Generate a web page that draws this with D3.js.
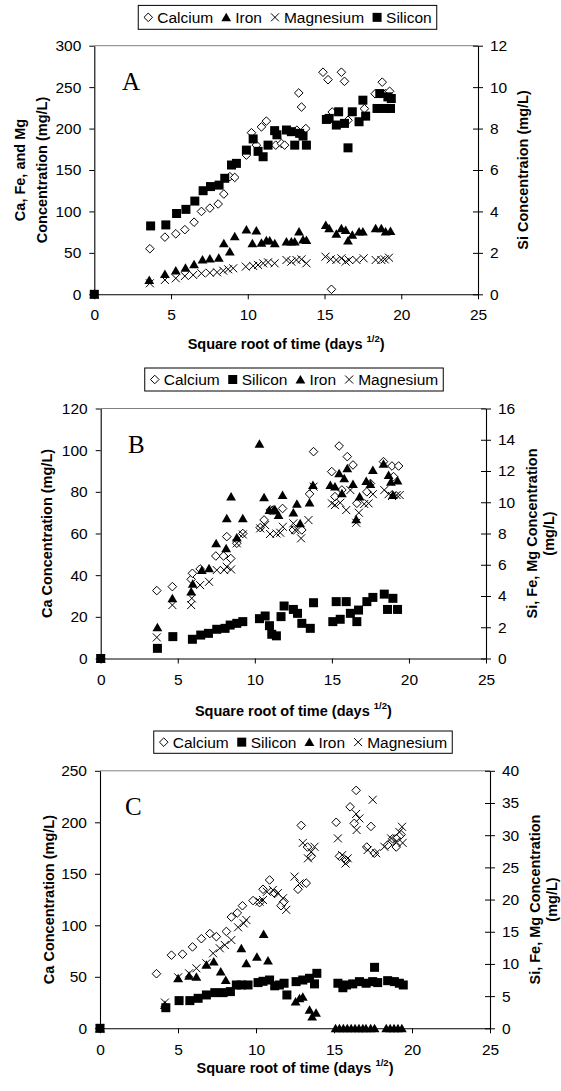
<!DOCTYPE html>
<html>
<head>
<meta charset="utf-8">
<script src="https://cdn.jsdelivr.net/npm/d3@7"></script>
<style>
  body { margin: 0; background: #fff; }
  svg { display: block; font-family: "Liberation Sans", Arial, sans-serif; }
</style>
</head>
<body>
<svg id="chart" width="561" height="1091"></svg>
<script>
// ---------- data: [sqrt(days), concentration] ----------
const xTicks = [0, 5, 10, 15, 20, 25];

// Panel A (Ca, Fe, Mg on left axis; Si on right axis)
const aLeftTicks = [0, 50, 100, 150, 200, 250, 300];
const aRightTicks = [0, 2, 4, 6, 8, 10, 12];
const aCalcium = [[0,0],[3.62,55],[4.6,69],[5.31,73],[5.9,78],[6.5,87],[6.98,100],[7.53,104],[8.07,109],[8.44,121],[8.83,142],[9.15,141],[9.91,168],[10.24,195],[10.56,180],[10.89,202],[11.21,209],[11.82,180],[12.19,182],[12.4,180],[13.2,198],[13.32,243],[13.5,226],[13.78,200],[14.9,268],[15.23,259],[15.45,6],[15.5,220],[16.1,268],[16.3,257],[16.53,210],[17.6,224],[18.3,242],[18.76,256],[18.98,242],[19.24,245]];
const aIron = [[0,0],[3.58,17],[4.6,24.5],[5.31,28.5],[5.94,32],[6.5,36],[7.05,42],[7.53,43],[8.11,44],[8.44,61.5],[8.83,51.5],[9.15,70],[9.91,78],[10.3,61.5],[10.56,77],[10.89,62],[11.21,65],[11.43,64.7],[11.76,61.5],[12.52,63.5],[12.84,63.5],[13.06,63.5],[13.34,75.6],[13.6,66],[13.82,65.5],[15.08,83.6],[15.3,79.6],[15.77,72.8],[16.1,79.6],[16.38,77.6],[16.53,64.7],[16.81,71.6],[17.25,75.6],[17.5,75.6],[18.33,79.6],[18.7,79.6],[18.98,75.6],[19.3,76.4]];
const aMagnesium = [[0,0],[3.62,13.3],[4.6,17.3],[5.31,19.3],[5.9,22],[6.44,23.3],[6.98,25.3],[7.53,26],[8.0,26.5],[8.4,28.5],[8.72,30.2],[9.05,31.4],[9.87,33.4],[10.35,34.2],[10.67,35.4],[11.0,37.4],[11.32,38.6],[11.75,37.4],[12.52,41.4],[12.84,39.4],[13.17,41.4],[13.5,42.2],[13.82,37.4],[15.06,45.4],[15.4,42.2],[15.77,41.4],[16.1,43.4],[16.38,39.4],[16.6,41.4],[17.08,41.4],[17.55,43.4],[18.33,41.4],[18.7,41.4],[18.92,42.2],[19.2,44.2]];
const aSilicon = [[0,0],[3.67,3.3],[4.66,3.35],[5.36,3.9],[5.97,4.1],[6.55,4.5],[7.09,5.0],[7.57,5.2],[8.13,5.27],[8.5,5.6],[8.94,6.24],[9.26,6.32],[9.91,6.96],[10.35,7.5],[10.67,6.9],[11.0,6.64],[11.32,7.2],[11.75,7.9],[11.9,7.7],[12.52,7.93],[12.84,7.85],[13.06,7.2],[13.38,7.77],[13.6,7.64],[13.82,7.2],[15.12,8.44],[15.3,8.49],[15.77,8.17],[15.92,8.81],[16.3,8.25],[16.53,7.07],[16.81,8.81],[17.25,8.33],[17.5,9.37],[17.68,8.6],[18.42,8.97],[18.6,9.69],[18.92,8.97],[19.13,9.53],[19.3,8.97],[19.35,9.45]];

// Panel B (Ca on left axis; Si, Fe, Mg on right axis)
const bLeftTicks = [0, 20, 40, 60, 80, 100, 120];
const bRightTicks = [0, 2, 4, 6, 8, 10, 12, 14, 16];
const bCalcium = [[0,0],[3.64,32.6],[4.65,34.5],[5.87,38],[5.95,40.9],[6.45,43],[7.47,49.2],[7.97,49.2],[8.18,58.5],[8.44,48],[8.83,55.3],[9.22,60],[10.35,62.8],[10.6,66.5],[11.0,71.3],[11.2,71.3],[11.8,72],[12.5,61.7],[13.05,61.7],[13.55,79],[13.81,99.3],[14.99,89.7],[15.2,77.7],[15.47,102],[15.65,80.9],[16.0,96.9],[16.37,92.9],[16.62,74.5],[17.27,80],[17.5,84],[18.35,94.5],[18.9,92.4],[19.0,87.3],[19.33,92.4]];
const bSilicon = [[0,0],[3.68,0.65],[4.68,1.4],[5.95,1.23],[6.49,1.5],[6.99,1.61],[7.53,1.87],[8.07,1.93],[8.4,2.14],[8.83,2.25],[9.22,2.36],[10.3,2.55],[10.67,2.72],[10.95,2.1],[11.1,1.55],[11.4,1.45],[11.7,2.68],[11.9,3.36],[12.5,3.14],[12.77,2.89],[13.05,2.25],[13.6,1.93],[13.81,3.57],[15.06,2.36],[15.28,3.64],[15.54,2.51],[15.93,3.64],[16.2,2.89],[16.62,2.36],[16.73,3.1],[17.27,3.64],[17.66,3.91],[18.4,4.12],[18.61,3.14],[18.96,3.85],[19.26,3.14]];
const bIron = [[0,0],[3.68,2.0],[4.65,3.85],[5.87,4.28],[5.97,4.77],[6.56,5.66],[7.03,5.77],[7.49,7.37],[8.14,7.05],[8.18,8.97],[8.46,10.36],[8.83,7.73],[9.22,8.97],[10.3,13.73],[10.6,10.31],[10.95,9.5],[11.2,9.46],[11.3,9.55],[11.54,9.18],[11.8,10.46],[12.5,9.33],[12.73,9.89],[12.94,8.65],[13.55,9.97],[13.77,11.1],[14.9,11.1],[15.2,11.0],[15.47,11.85],[15.65,10.57],[15.8,11.53],[16.0,12.17],[16.37,11.16],[16.58,8.9],[16.8,10.36],[17.23,11.36],[17.5,11.16],[17.66,12.06],[18.35,12.45],[18.68,11.74],[18.83,11.3],[18.96,10.46],[19.26,11.38]];
const bMagnesium = [[0,0],[3.64,1.35],[4.65,3.42],[5.87,3.42],[5.91,3.85],[6.45,4.7],[7.03,4.91],[7.53,5.66],[8.01,5.66],[8.18,5.87],[8.46,5.7],[8.83,7.37],[9.22,7.94],[10.35,8.33],[10.67,8.54],[10.99,7.97],[11.4,8.0],[11.65,8.05],[11.82,8.43],[12.5,8.65],[12.62,8.22],[13.0,7.69],[13.48,8.86],[13.81,11.0],[15.0,9.93],[15.2,9.82],[15.54,9.97],[15.93,9.5],[16.2,10.78],[16.58,8.69],[16.75,9.33],[17.1,9.89],[17.38,9.93],[17.66,10.52],[18.4,10.78],[18.68,10.52],[18.9,10.4],[19.2,10.46],[19.4,10.46]];

// Panel C (Ca on left axis; Si, Fe, Mg on right axis)
const cLeftTicks = [0, 50, 100, 150, 200, 250];
const cRightTicks = [0, 5, 10, 15, 20, 25, 30, 35, 40];
const cCalcium = [[0,0],[3.62,53],[4.58,71],[5.29,72],[5.93,79],[6.5,87],[7.04,92],[7.46,89],[8.1,94],[8.42,108],[8.8,112],[9.13,119],[9.81,124],[10.23,122],[10.45,135],[10.87,144],[11.2,131],[11.6,119],[11.8,123],[12.69,135],[12.9,197],[13.22,141],[13.3,176],[13.54,167],[15.14,200],[15.35,167],[15.77,163],[16.03,215],[16.3,199],[16.42,231],[17.1,176],[17.37,196],[17.59,170],[18.44,178],[18.76,184],[18.99,176],[19.08,185],[19.3,188]];
const cSilicon = [[0,0],[4.22,3.2],[5.07,4.3],[5.76,4.3],[6.29,4.66],[6.82,5.18],[7.36,5.54],[7.89,5.54],[8.36,5.7],[8.74,6.73],[9.06,6.73],[9.49,6.73],[10.13,7.1],[10.45,7.3],[10.87,7.5],[11.2,6.6],[11.5,6.73],[11.8,7.0],[11.98,5.18],[12.57,7.25],[13.0,7.5],[13.43,7.77],[13.75,6.9],[13.9,8.54],[15.25,7.0],[15.57,6.3],[15.8,6.73],[16.2,6.9],[16.63,7.25],[17.06,7.0],[17.48,7.25],[17.6,9.47],[17.8,7.1],[18.44,7.4],[18.87,7.25],[19.19,7.0],[19.44,6.73]];
const cIron = [[0,0],[4.16,3.6],[5.01,7.77],[5.71,8.13],[6.18,8.0],[6.82,9.84],[7.29,10.35],[7.74,8.8],[8.06,7.5],[9.06,12.4],[9.38,10.1],[10.06,11.1],[10.49,14.65],[10.77,10.5],[12.54,4.14],[12.79,4.66],[13.0,4.9],[13.43,2.85],[13.6,1.8],[13.85,2.4],[15.1,0],[15.35,0],[15.6,0],[15.85,0],[16.1,0],[16.35,0],[16.6,0],[16.85,0],[17.05,0],[17.35,0],[17.6,0],[18.35,0],[18.6,0],[18.85,0],[19.1,0],[19.35,0]];
const cMagnesium = [[0,0],[4.16,4.0],[5.01,7.92],[5.71,8.54],[6.18,9.32],[6.82,10.1],[7.25,11.65],[7.68,12.43],[8.0,12.94],[8.42,13.72],[8.85,15.69],[9.21,16.3],[9.38,16.83],[10.23,19.67],[10.45,19.93],[10.7,21.2],[11.08,21.5],[11.4,21],[11.73,20.2],[11.94,18.4],[12.47,23.56],[12.79,22.5],[13.0,28.8],[13.33,26.4],[13.54,27.4],[13.75,28.2],[15.25,29.5],[15.52,26.9],[15.74,25.6],[15.88,26.4],[16.42,33.3],[16.45,30.8],[16.63,32.6],[17.16,27.7],[17.48,35.5],[17.7,27.2],[18.23,28.2],[18.66,29.5],[18.98,29],[19.19,30.5],[19.36,31.3],[19.4,28.8]];

// ---------- panel layout ----------
const panels = [
  {
    letter: "A", left: 94.3, right: 478, top: 45.7, bottom: 294.3,
    lDomain: [0, 300], lTicks: aLeftTicks, rDomain: [0, 12], rTicks: aRightTicks,
    letterPos: [122, 90], legendY: [5.4, 29.3], legendCx: 287.5,
    xTitleY: 349, xLabelPad: 10,
    leftTitle: { lines: ["Ca, Fe, and Mg", "Concentration (mg/L)"], xs: [20, 41.7] },
    rightTitle: { lines: ["Si Concentraion (mg/L)"], xs: [523] },
    series: [
      { name: "Calcium", data: aCalcium, axis: "L", shape: "diamond" },
      { name: "Iron", data: aIron, axis: "L", shape: "triangle" },
      { name: "Magnesium", data: aMagnesium, axis: "L", shape: "cross" },
      { name: "Silicon", data: aSilicon, axis: "R", shape: "square" }
    ]
  },
  {
    letter: "B", left: 100.7, right: 486, top: 408.5, bottom: 658.5,
    lDomain: [0, 120], lTicks: bLeftTicks, rDomain: [0, 16], rTicks: bRightTicks,
    letterPos: [128, 453], legendY: [368, 391], legendCx: 294,
    xTitleY: 716, xLabelPad: 10,
    leftTitle: { lines: ["Ca Concentration (mg/L)"], xs: [46.7] },
    rightTitle: { lines: ["Si, Fe, Mg Concentration", "(mg/L)"], xs: [531.7, 549] },
    series: [
      { name: "Calcium", data: bCalcium, axis: "L", shape: "diamond" },
      { name: "Silicon", data: bSilicon, axis: "R", shape: "square" },
      { name: "Iron", data: bIron, axis: "R", shape: "triangle" },
      { name: "Magnesium", data: bMagnesium, axis: "R", shape: "cross" }
    ]
  },
  {
    letter: "C", left: 100, right: 490, top: 770.8, bottom: 1028.3,
    lDomain: [0, 250], lTicks: cLeftTicks, rDomain: [0, 40], rTicks: cRightTicks,
    letterPos: [125, 815], legendY: [731, 753.3], legendCx: 303,
    xTitleY: 1073, xLabelPad: 11,
    leftTitle: { lines: ["Ca Concentration (mg/L)"], xs: [48.3] },
    rightTitle: { lines: ["Si, Fe, Mg Concentration", "(mg/L)"], xs: [535, 552] },
    series: [
      { name: "Calcium", data: cCalcium, axis: "L", shape: "diamond" },
      { name: "Silicon", data: cSilicon, axis: "R", shape: "square" },
      { name: "Iron", data: cIron, axis: "R", shape: "triangle" },
      { name: "Magnesium", data: cMagnesium, axis: "R", shape: "cross" }
    ]
  }
];

const TICK_FONT = 15.5;
const TITLE_FONT = 14.5;
const svg = d3.select("#chart");

// marker drawing
function drawMarker(sel, shape) {
  if (shape === "diamond") {
    sel.append("path").attr("d", "M0,-4.3L4.3,0L0,4.3L-4.3,0Z")
      .attr("fill", "#fff").attr("stroke", "#000").attr("stroke-width", 1);
  } else if (shape === "triangle") {
    sel.append("path").attr("d", "M0,-4.6L4.9,3.9L-4.9,3.9Z").attr("fill", "#000");
  } else if (shape === "cross") {
    sel.append("path").attr("d", "M-4,-4L4,4M-4,4L4,-4")
      .attr("fill", "none").attr("stroke", "#000").attr("stroke-width", 1);
  } else {
    sel.append("rect").attr("x", -4.5).attr("y", -4.5).attr("width", 9).attr("height", 9).attr("fill", "#000");
  }
}

function styleAxis(g) {
  g.select(".domain").attr("stroke", "#000").attr("stroke-width", 1.1);
  g.selectAll(".tick line").attr("stroke", "#000");
  g.selectAll(".tick text").attr("font-size", TICK_FONT).attr("fill", "#000")
    .attr("font-family", "'Liberation Sans', Arial, sans-serif");
}

function drawPanel(p) {
  const g = svg.append("g");
  const x = d3.scaleLinear().domain([0, 25]).range([p.left, p.right]);
  const yL = d3.scaleLinear().domain(p.lDomain).range([p.bottom, p.top]);
  const yR = d3.scaleLinear().domain(p.rDomain).range([p.bottom, p.top]);

  // upper border of the plot area
  g.append("line").attr("x1", p.left).attr("x2", p.right)
    .attr("y1", p.top).attr("y2", p.top).attr("stroke", "#808080").attr("stroke-width", 1);

  // axes
  const gx = g.append("g").attr("transform", `translate(0,${p.bottom})`)
    .call(d3.axisBottom(x).tickValues(xTicks).tickSizeInner(5).tickSizeOuter(0).tickPadding(p.xLabelPad));
  styleAxis(gx);

  const gl = g.append("g").attr("transform", `translate(${p.left},0)`)
    .call(d3.axisLeft(yL).tickValues(p.lTicks).tickSizeInner(5).tickSizeOuter(0).tickPadding(8));
  styleAxis(gl);

  const gr = g.append("g").attr("transform", `translate(${p.right},0)`)
    .call(d3.axisRight(yR).tickValues(p.rTicks).tickSizeInner(5).tickSizeOuter(0).tickPadding(7));
  styleAxis(gr);
  gr.selectAll(".tick line").attr("x1", -5).attr("x2", 5);

  // data points, drawn in series order
  p.series.forEach(s => {
    const yScale = s.axis === "L" ? yL : yR;
    const pts = g.append("g").selectAll("g").data(s.data).join("g")
      .attr("transform", d => `translate(${x(d[0])},${yScale(d[1])})`);
    pts.each(function () { drawMarker(d3.select(this), s.shape); });
  });

  // panel letter
  g.append("text").attr("x", p.letterPos[0]).attr("y", p.letterPos[1])
    .attr("font-family", "'Liberation Serif', 'Times New Roman', serif")
    .attr("font-size", 25).attr("fill", "#000").text(p.letter);

  // x axis title with superscript
  const xt = g.append("text").attr("x", (p.left + p.right) / 2).attr("y", p.xTitleY)
    .attr("text-anchor", "middle").attr("font-size", TITLE_FONT).attr("font-weight", "bold").attr("fill", "#000");
  xt.append("tspan").text("Square root of time (days ");
  xt.append("tspan").attr("font-size", 9.5).attr("dy", -7).text("1/2");
  xt.append("tspan").attr("dy", 7).text(")");

  // y axis titles
  const cy = (p.top + p.bottom) / 2;
  [p.leftTitle, p.rightTitle].forEach(t => {
    t.lines.forEach((line, i) => {
      g.append("text").attr("transform", `translate(${t.xs[i]},${cy}) rotate(-90)`)
        .attr("text-anchor", "middle").attr("dy", "0.36em")
        .attr("font-size", TITLE_FONT).attr("font-weight", "bold").attr("fill", "#000")
        .text(line);
    });
  });

  // legend
  const lg = g.append("g");
  const midY = (p.legendY[0] + p.legendY[1]) / 2;
  let cursor = 0;
  const items = [];
  p.series.forEach((s, i) => {
    const symX = cursor + 5;
    const t = lg.append("text").attr("x", symX + 9).attr("y", midY).attr("dy", "0.35em")
      .attr("font-size", 15.5).attr("fill", "#000").text(s.name);
    const w = t.node().getComputedTextLength();
    items.push({ s, symX });
    cursor = symX + 9 + w + 8;
  });
  const contentW = cursor - 8;
  items.forEach(it => {
    const m = lg.append("g").attr("transform", `translate(${it.symX},${midY})`);
    drawMarker(m, it.s.shape);
  });
  const pad = 5;
  const boxW = contentW + 2 * pad;
  const boxX = p.legendCx - boxW / 2;
  lg.insert("rect", ":first-child").attr("x", -pad).attr("y", p.legendY[0] - midY + midY)
    .attr("width", boxW).attr("height", p.legendY[1] - p.legendY[0])
    .attr("fill", "#fff").attr("stroke", "#000").attr("stroke-width", 1);
  lg.select("rect").attr("y", p.legendY[0]);
  lg.attr("transform", `translate(${boxX + pad},0)`);
}

panels.forEach(drawPanel);
</script>
</body>
</html>
